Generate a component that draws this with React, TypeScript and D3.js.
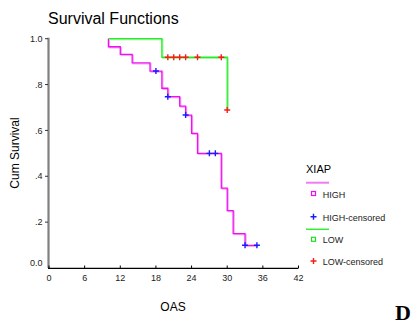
import React, { useEffect, useRef } from 'react';
import * as d3 from 'd3';

// Kaplan-Meier steps
const highStart = 10;
const highStepTimes = [10, 12, 14, 17, 19, 20, 22, 23, 24, 25, 29, 30, 31, 33];
const highStepSurv = [0.965, 0.932, 0.895, 0.859, 0.784, 0.747, 0.706, 0.667, 0.587, 0.5, 0.348, 0.25, 0.15, 0.099];
const highEnd = 35;
const highCensorTimes = [18, 20, 23, 27, 28, 33, 35];

const lowStart = 10;
const lowStepTimes = [19, 30];
const lowStepSurv = [0.919, 0.689];
const lowEnd = 30;
const lowCensorTimes = [20, 21, 22, 23, 25, 29, 30];

const xTicks = [0, 6, 12, 18, 24, 30, 36, 42];
const yTicks = [0, 0.2, 0.4, 0.6, 0.8, 1.0];
const yTickLabels = ['0.0', '.2', '.4', '.6', '.8', '1.0'];

const legendItems = ['HIGH', 'HIGH-censored', 'LOW', 'LOW-censored'];

const FONT = 'Liberation Sans, Arial, sans-serif';

const survAt = (t, times, surv) => {
  let s = 1;
  times.forEach((st, i) => {
    if (st <= t) s = surv[i];
  });
  return s;
};

const stepPoints = (start, times, surv, end) => {
  const pts = [[start, 1]];
  let s = 1;
  times.forEach((t, i) => {
    pts.push([t, s]);
    s = surv[i];
    pts.push([t, s]);
  });
  pts.push([end, s]);
  return pts;
};

const App = () => {
  const chartRef = useRef(null);

  useEffect(() => {
    d3.select(chartRef.current).selectAll('*').remove();
    const svg = d3.select(chartRef.current)
      .append('svg')
      .attr('width', 419)
      .attr('height', 324)
      .style('position', 'absolute')
      .style('left', 0)
      .style('top', 0)
      .style('background', '#fff');

    const x = d3.scaleLinear().domain([0, 42]).range([49, 298.5]);
    const y = d3.scaleLinear().domain([0, 1]).range([268, 38.7]);

    // title
    svg.append('text')
      .attr('x', 48).attr('y', 24)
      .attr('font-family', FONT).attr('font-size', 16)
      .text('Survival Functions');

    // y axis
    svg.append('line')
      .attr('x1', 48.5).attr('x2', 48.5)
      .attr('y1', y(1) - 1).attr('y2', y(0))
      .attr('stroke', '#808080').attr('stroke-width', 2.2);
    yTicks.forEach((v, i) => {
      if (v > 0) {
        svg.append('line')
          .attr('x1', 45).attr('x2', 48)
          .attr('y1', y(v)).attr('y2', y(v))
          .attr('stroke', '#333').attr('stroke-width', 1);
      }
      svg.append('text')
        .attr('x', 42.5).attr('y', v === 0 ? y(v) - 5 : y(v))
        .attr('dy', '0.35em')
        .attr('text-anchor', 'end')
        .attr('font-family', FONT).attr('font-size', 9)
        .attr('fill', '#222')
        .text(yTickLabels[i]);
    });

    // x axis
    svg.append('line')
      .attr('x1', x(0) - 1).attr('x2', x(42))
      .attr('y1', 268.3).attr('y2', 268.3)
      .attr('stroke', '#000').attr('stroke-width', 1.2);
    xTicks.forEach(v => {
      svg.append('line')
        .attr('x1', x(v)).attr('x2', x(v))
        .attr('y1', 265.5).attr('y2', 268)
        .attr('stroke', '#000').attr('stroke-width', 1);
      svg.append('text')
        .attr('x', x(v)).attr('y', 277.7)
        .attr('dy', '0.35em')
        .attr('text-anchor', 'middle')
        .attr('font-family', FONT).attr('font-size', 9)
        .attr('fill', '#222')
        .text(v);
    });

    // axis titles
    svg.append('text')
      .attr('x', 173).attr('y', 311)
      .attr('text-anchor', 'middle')
      .attr('font-family', FONT).attr('font-size', 12)
      .text('OAS');
    svg.append('text')
      .attr('transform', 'translate(19,153) rotate(-90)')
      .attr('text-anchor', 'middle')
      .attr('font-family', FONT).attr('font-size', 12)
      .text('Cum Survival');

    const line = d3.line().x(d => x(d[0])).y(d => y(d[1])).curve(d3.curveLinear);

    const drawCurve = (pts, color, shadow) => {
      svg.append('path')
        .attr('d', line(pts))
        .attr('transform', 'translate(1,1)')
        .attr('fill', 'none')
        .attr('stroke', shadow).attr('stroke-width', 1.3);
      svg.append('path')
        .attr('d', line(pts))
        .attr('fill', 'none')
        .attr('stroke', color).attr('stroke-width', 1.3);
    };

    const drawPlus = (cx, cy, color) => {
      svg.append('path')
        .attr('d', `M${cx - 3},${cy}H${cx + 3}M${cx},${cy - 3}V${cy + 3}`)
        .attr('stroke', color).attr('stroke-width', 1.4).attr('fill', 'none');
    };

    drawCurve(stepPoints(lowStart, lowStepTimes, lowStepSurv, lowEnd), '#22ee22', '#a8f5a8');
    drawCurve(stepPoints(highStart, highStepTimes, highStepSurv, highEnd), '#ee11ee', '#f7a8f7');

    highCensorTimes.forEach(t => drawPlus(x(t), y(survAt(t, highStepTimes, highStepSurv)), '#1a1aff'));
    lowCensorTimes.forEach(t => drawPlus(x(t), y(survAt(t, lowStepTimes, lowStepSurv)), '#ff1a1a'));

    // legend
    const lg = svg.append('g');
    lg.append('text')
      .attr('x', 306).attr('y', 169).attr('dy', '0.35em')
      .attr('font-family', FONT).attr('font-size', 11)
      .text('XIAP');
    lg.append('line')
      .attr('x1', 306).attr('x2', 329).attr('y1', 182.7).attr('y2', 182.7)
      .attr('stroke', '#f07cf0').attr('stroke-width', 2);
    lg.append('line')
      .attr('x1', 306).attr('x2', 329).attr('y1', 229.3).attr('y2', 229.3)
      .attr('stroke', '#33ee33').attr('stroke-width', 1.5);
    const itemY = [193.5, 216.8, 239.3, 261];
    const itemColors = ['#ee11ee', '#1a1aff', '#22dd22', '#ff1a1a'];
    legendItems.forEach((name, i) => {
      if (i % 2 === 0) {
        lg.append('rect')
          .attr('x', 311.5).attr('y', itemY[i] - 2).attr('width', 4).attr('height', 4)
          .attr('fill', '#fff').attr('stroke', itemColors[i]).attr('stroke-width', 1.2);
      } else {
        drawPlus(313.5, itemY[i], itemColors[i]);
      }
      lg.append('text')
        .attr('x', 322.7).attr('y', itemY[i] + 1).attr('dy', '0.35em')
        .attr('font-family', FONT).attr('font-size', 9)
        .attr('fill', '#222')
        .text(name);
    });

    // panel letter
    svg.append('text')
      .attr('x', 395).attr('y', 320)
      .attr('font-family', 'Liberation Serif, Times New Roman, serif')
      .attr('font-weight', 'bold').attr('font-size', 22)
      .text('D');
  }, []);

  return (
    <div id="chart" ref={chartRef}></div>
  );
};

export default App;
